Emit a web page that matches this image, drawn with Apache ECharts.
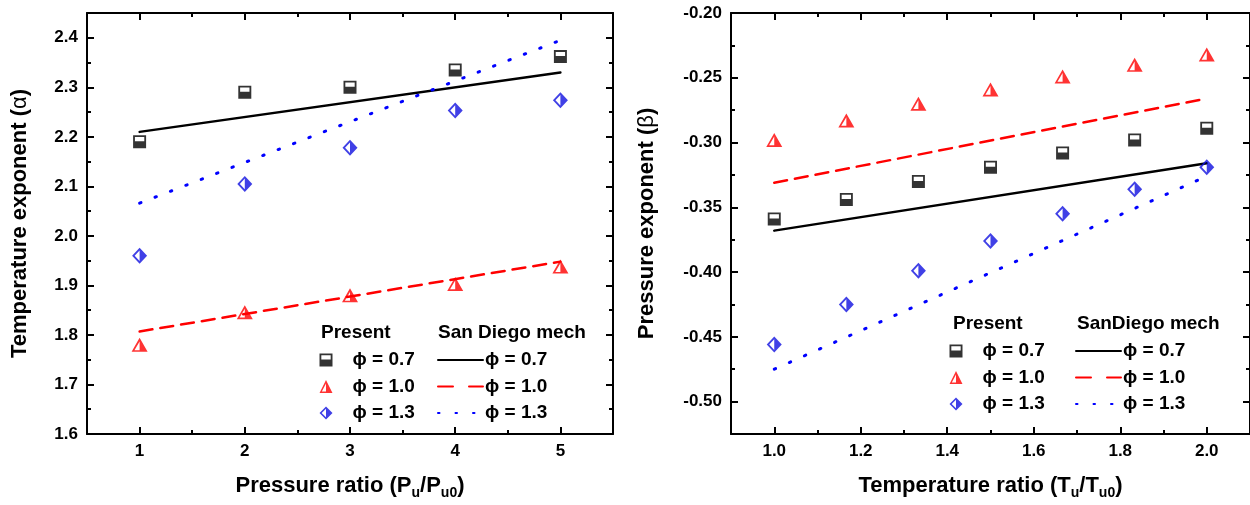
<!DOCTYPE html>
<html>
<head>
<meta charset="utf-8">
<script src="https://cdn.jsdelivr.net/npm/echarts@6/dist/echarts.min.js"></script>
<style>
  html, body { margin: 0; padding: 0; background: #fff; }
  #chart { width: 1250px; height: 505px; }
</style>
</head>
<body>
<div id="chart"></div>
<script>
// left panel: temperature exponent vs pressure ratio
var pressureRatio = [1, 2, 3, 4, 5];
var alphaPhi07 = [2.19, 2.29, 2.30, 2.335, 2.362];
var alphaPhi10 = [1.780, 1.846, 1.880, 1.903, 1.938];
var alphaPhi13 = [1.960, 2.105, 2.178, 2.253, 2.274];
var sdPressure = [1, 5];
var sdAlpha07 = [2.21, 2.33];
var sdAlpha10 = [1.807, 1.948];
var sdAlpha13 = [2.066, 2.395];

// right panel: pressure exponent vs temperature ratio
var tempRatio = [1.0, 1.1667, 1.3333, 1.5, 1.6667, 1.8333, 2.0];
var betaPhi07 = [-0.359, -0.344, -0.330, -0.319, -0.308, -0.298, -0.289];
var betaPhi10 = [-0.298, -0.283, -0.270, -0.259, -0.249, -0.240, -0.232];
var betaPhi13 = [-0.456, -0.425, -0.399, -0.376, -0.355, -0.336, -0.319];
var sdTemp = [1.0, 2.0];
var sdBeta07 = [-0.368, -0.316];
var sdBeta10 = [-0.331, -0.266];
var sdBeta13 = [-0.475, -0.326];

// ticks
var leftXTicks = [1, 2, 3, 4, 5];
var leftXMinor = [1.5, 2.5, 3.5, 4.5];
var leftYTicks = [1.6, 1.7, 1.8, 1.9, 2.0, 2.1, 2.2, 2.3, 2.4];
var leftYMinor = [1.65, 1.75, 1.85, 1.95, 2.05, 2.15, 2.25, 2.35];
var rightXTicks = [1.0, 1.2, 1.4, 1.6, 1.8, 2.0];
var rightXMinor = [1.1, 1.3, 1.5, 1.7, 1.9];
var rightYTicks = [-0.50, -0.45, -0.40, -0.35, -0.30, -0.25, -0.20];
var rightYMinor = [-0.475, -0.425, -0.375, -0.325, -0.275, -0.225];

var legendText = {
    L07: 'ϕ = 0.7', L10: 'ϕ = 1.0', L13: 'ϕ = 1.3',
    LS07: 'ϕ = 0.7', LS10: 'ϕ = 1.0', LS13: 'ϕ = 1.3',
    R07: 'ϕ = 0.7', R10: 'ϕ = 1.0', R13: 'ϕ = 1.3',
    RS07: 'ϕ = 0.7', RS10: 'ϕ = 1.0', RS13: 'ϕ = 1.3'
};

var FONT = '"Liberation Sans", Arial, sans-serif';
var RED = '#ff0000';
var BLUE = '#1010e0';

// half filled markers: outline ring + filled half
var SQUARE = 'path://M0 0L10 0L10 10L0 10Z M1.4 1.4L1.4 8.6L8.6 8.6L8.6 1.4Z M1.4 4.6L8.6 4.6L8.6 8.6L1.4 8.6Z';
var TRIANGLE = 'path://M5 0L10 10L0 10Z M5 2.6L1.8 8.8L8.2 8.8Z M5 2.6L8.2 8.8L5 8.8Z';
var DIAMOND = 'path://M5 0L10 5L5 10L0 5Z M5 1.7L1.7 5L5 8.3L8.3 5Z M5 1.7L8.3 5L5 8.3Z';

function pairs(xs, ys) {
    return xs.map(function (x, i) { return [x, ys[i]]; });
}

var tickStyle = { color: '#000', width: 2 };
var labelStyle = { color: '#000', fontSize: 17, fontWeight: 'bold', fontFamily: FONT };
var titleRich = {
    t: { fontSize: 22, fontWeight: 'bold', fontFamily: FONT, color: '#000', lineHeight: 28 },
    s: { fontSize: 14, fontWeight: 'bold', fontFamily: FONT, color: '#000', lineHeight: 14, verticalAlign: 'bottom' },
    g: { fontSize: 22, fontWeight: 'normal', fontFamily: FONT, color: '#000', lineHeight: 28 }
};

// 4 axes per side: main (labels), main minor, mirror, mirror minor
function makeAxes(grid, pos, mirrorPos, min, max, major, minor, fmt, name, nameGap) {
    var base = { type: 'value', gridIndex: grid, min: min, max: max, splitLine: { show: false } };
    function ax(p, line, ticks, len, label) {
        return Object.assign({}, base, {
            position: p,
            axisLine: { show: line, onZero: false, lineStyle: { color: '#000', width: 2 } },
            axisTick: { show: true, inside: true, length: len, customValues: ticks, lineStyle: tickStyle },
            axisLabel: label ? Object.assign({ customValues: major, formatter: fmt, margin: 9 }, labelStyle) : { show: false }
        });
    }
    var main = ax(pos, true, major, 7, true);
    main.name = name;
    main.nameLocation = 'middle';
    main.nameGap = nameGap;
    main.nameTextStyle = { rich: titleRich };
    return [main, ax(pos, false, minor, 4, false), ax(mirrorPos, true, major, 7, false), ax(mirrorPos, false, minor, 4, false)];
}

function f1(v) { return v.toFixed(1); }
function f0(v) { return String(v); }
function f2(v) { return v.toFixed(2); }

var xAxes = makeAxes(0, 'bottom', 'top', 0.5, 5.5, leftXTicks, leftXMinor, f0,
    '{t|Pressure ratio (P}{s|u}{t|/P}{s|u0}{t|)}', 38)
    .concat(makeAxes(1, 'bottom', 'top', 0.9, 2.1, rightXTicks, rightXMinor, f1,
    '{t|Temperature ratio (T}{s|u}{t|/T}{s|u0}{t|)}', 38));
var yAxes = makeAxes(0, 'left', 'right', 1.6, 2.45, leftYTicks, leftYMinor, f1,
    '{t|Temperature exponent (}{g|α}{t|)}', 53)
    .concat(makeAxes(1, 'left', 'right', -0.525, -0.2, rightYTicks, rightYMinor, f2,
    '{t|Pressure exponent (}{g|β}{t|)}', 70));

function scatter(name, axis, symbol, size, color, data) {
    return { name: name, type: 'scatter', xAxisIndex: axis, yAxisIndex: axis, symbol: symbol,
        symbolSize: size, itemStyle: { color: color }, data: data, z: 3 };
}
function line(name, axis, color, type, width, data) {
    return { name: name, type: 'line', xAxisIndex: axis, yAxisIndex: axis, symbol: 'none',
        itemStyle: { color: color }, lineStyle: { color: color, width: width, type: type, cap: 'round' },
        data: data, z: 2 };
}

var DASH = [13, 8];
var DOT = [1.5, 15];

var series = [
    scatter('L07', 0, SQUARE, 13, '#000', pairs(pressureRatio, alphaPhi07)),
    scatter('L10', 0, TRIANGLE, [16, 14], RED, pairs(pressureRatio, alphaPhi10)),
    scatter('L13', 0, DIAMOND, [15, 16], BLUE, pairs(pressureRatio, alphaPhi13)),
    line('LS07', 0, '#000', 'solid', 2.5, pairs(sdPressure, sdAlpha07)),
    line('LS10', 0, RED, DASH, 2.5, pairs(sdPressure, sdAlpha10)),
    line('LS13', 0, '#0000ff', DOT, 3, pairs(sdPressure, sdAlpha13)),
    scatter('R07', 4, SQUARE, 13, '#000', pairs(tempRatio, betaPhi07)),
    scatter('R10', 4, TRIANGLE, [16, 14], RED, pairs(tempRatio, betaPhi10)),
    scatter('R13', 4, DIAMOND, [15, 16], BLUE, pairs(tempRatio, betaPhi13)),
    line('RS07', 4, '#000', 'solid', 2.5, pairs(sdTemp, sdBeta07)),
    line('RS10', 4, RED, DASH, 2.5, pairs(sdTemp, sdBeta10)),
    line('RS13', 4, '#0000ff', DOT, 3, pairs(sdTemp, sdBeta13))
];

var legendTextStyle = { fontSize: 19, fontWeight: 'bold', fontFamily: FONT, color: '#000', lineHeight: 22 };

function markerLegend(left, top, names) {
    return {
        orient: 'vertical', left: left, top: top, padding: 0, itemWidth: 13, itemHeight: 13, itemGap: 4.5,
        selectedMode: false,
        data: [{ name: names[0], icon: SQUARE }, { name: names[1], icon: TRIANGLE }, { name: names[2], icon: DIAMOND }],
        formatter: function (n) { return legendText[n]; },
        textStyle: Object.assign({ padding: [0, 0, 0, 15] }, legendTextStyle)
    };
}
// hide the symbol ECharts puts in the middle of line legend icons
var noSymbol = { opacity: 0 };
function lineLegend(left, top, names) {
    return {
        orient: 'vertical', left: left, top: top, padding: 0, itemWidth: 45, itemHeight: 13, itemGap: 4.5,
        selectedMode: false,
        data: [
            { name: names[0], itemStyle: noSymbol },
            { name: names[1], itemStyle: noSymbol, lineStyle: { type: [15, 16] } },
            { name: names[2], itemStyle: noSymbol, lineStyle: { type: [1.5, 16] } }
        ],
        formatter: function (n) { return legendText[n]; },
        textStyle: Object.assign({ padding: [0, 0, 0, -3] }, legendTextStyle)
    };
}

function header(text, left, top) {
    return { text: text, left: left, top: top, padding: 0,
        textStyle: { fontSize: 19, fontWeight: 'bold', fontFamily: FONT, color: '#000', lineHeight: 22 } };
}

var chart = echarts.init(document.getElementById('chart'), null, { renderer: 'canvas' });
chart.setOption({
    animation: false,
    backgroundColor: '#fff',
    title: [
        header('Present', 321, 322),
        header('San Diego mech', 438, 322),
        header('Present', 953, 313),
        header('SanDiego mech', 1077, 313)
    ],
    grid: [
        { left: 87, top: 13, width: 526, height: 423 },
        { left: 731, top: 13, width: 519, height: 421 }
    ],
    xAxis: xAxes,
    yAxis: yAxes,
    legend: [
        markerLegend(319.5, 349, ['L07', 'L10', 'L13']),
        lineLegend(437, 349, ['LS07', 'LS10', 'LS13']),
        markerLegend(949.5, 340, ['R07', 'R10', 'R13']),
        lineLegend(1075, 340, ['RS07', 'RS10', 'RS13'])
    ],
    series: series
});
</script>
</body>
</html>
